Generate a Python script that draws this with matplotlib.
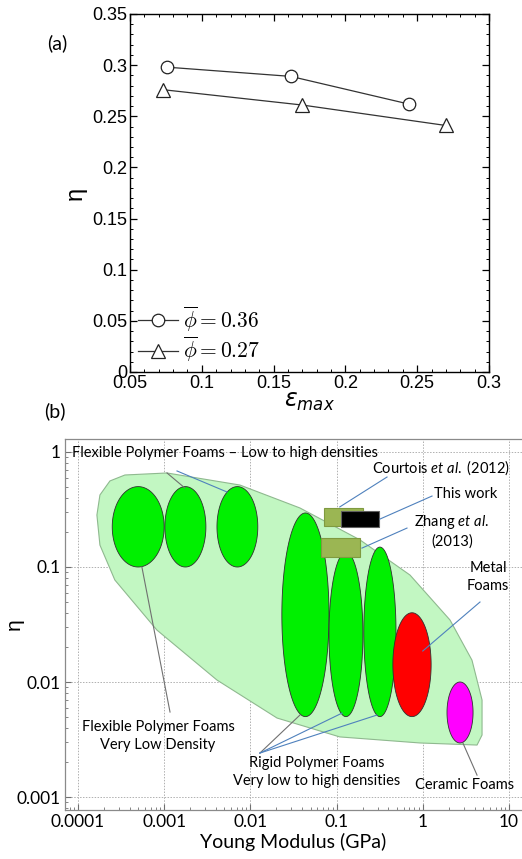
import numpy as np
import matplotlib
matplotlib.use("Agg")
import matplotlib.pyplot as plt
from matplotlib.font_manager import FontProperties
from matplotlib.patches import Rectangle

plt.rcParams["mathtext.fontset"] = "custom"
plt.rcParams["mathtext.rm"] = "Lato"
plt.rcParams["mathtext.it"] = "Lato:italic"

# ---------------- panel (a) data ----------------
eps_036 = [0.076, 0.162, 0.244]
eta_036 = [0.298, 0.289, 0.262]
eps_027 = [0.073, 0.170, 0.270]
eta_027 = [0.276, 0.261, 0.241]

# ---------------- panel (b) data ----------------
# foam families: (E_lo, E_hi) in GPa, (eta_lo, eta_hi)
foam_E = [(0.00025, 0.001), (0.00102, 0.00305), (0.0041, 0.0122),
          (0.0232, 0.0817), (0.0817, 0.202), (0.207, 0.489),
          (0.45, 1.25), (1.91, 3.83)]
foam_eta = [(0.1, 0.5), (0.1, 0.5), (0.1, 0.5),
            (0.005, 0.295), (0.005, 0.135), (0.005, 0.149),
            (0.005, 0.04), (0.00295, 0.01)]
foam_col = ["#00f000"] * 6 + ["#ff0000", "#ff00ff"]

# overall envelope of foams
env_E = [1.66e-4, 1.80e-4, 2.35e-4, 3.51e-4, 1.08e-3, 7.57e-3, 0.0376,
         0.187, 0.711, 2.07, 3.72, 4.87, 4.87, 4.26, 0.929, 0.109,
         0.0204, 4.10e-3, 8.24e-4, 2.68e-4, 1.80e-4]
env_eta = [0.283, 0.423, 0.560, 0.631, 0.657, 0.516, 0.326,
           0.172, 0.0851, 0.0346, 0.0155, 0.00697, 0.00346, 0.00283,
           0.00295, 0.00333, 0.00486, 0.0104, 0.0283, 0.0771, 0.155]

# literature boxes
box_names = ["Courtois", "Zhang", "This work"]
box_E = [(0.0714, 0.202), (0.066, 0.187), (0.112, 0.31)]
box_eta = [(0.227, 0.326), (0.122, 0.179), (0.223, 0.307)]
box_col = ["#9bb653", "#9bb653", "#000000"]


fig = plt.figure(figsize=(5.22, 8.59), dpi=100)

# ==================================================
# PANEL (a)
# ==================================================
ax1 = fig.add_axes([130 / 522, 1 - 372 / 859, 359 / 522, 358 / 859])

legprop = FontProperties(size=15.5, math_fontfamily="cm")

ax1.plot(eps_036, eta_036, color="#333333", lw=0.9, marker="o",
         ms=9, mfc="white", mec="#222222", mew=0.9,
         label=r"$\overline{\phi} = 0.36$")
ax1.plot(eps_027, eta_027, color="#333333", lw=0.9, marker="^",
         ms=10, mfc="white", mec="#222222", mew=0.9,
         label=r"$\overline{\phi} = 0.27$")

ax1.set_xlim(0.05, 0.3)
ax1.set_ylim(0, 0.35)
ax1.set_xticks(np.arange(0.05, 0.31, 0.05))
ax1.set_yticks(np.arange(0, 0.36, 0.05))
ax1.set_xticks(np.arange(0.05, 0.3, 0.01), minor=True)
ax1.set_yticks(np.arange(0, 0.35, 0.01), minor=True)
ax1.set_xticklabels(["0.05", "0.1", "0.15", "0.2", "0.25", "0.3"])
ax1.set_yticklabels(["0", "0.05", "0.1", "0.15", "0.2", "0.25", "0.3", "0.35"])
ax1.tick_params(which="both", direction="in", top=True, right=True)
ax1.tick_params(which="major", length=5, width=0.9, pad=2)
ax1.tick_params(which="minor", length=2.5, width=0.7)
for lab in ax1.get_xticklabels() + ax1.get_yticklabels():
    lab.set_family("Liberation Sans")
    lab.set_fontsize(13)
for sp in ax1.spines.values():
    sp.set_linewidth(1.0)

ax1.set_ylabel("η", family="Liberation Sans", fontsize=17, labelpad=4)
ax1.set_xlabel(r"$\varepsilon_{max}$", fontsize=17, labelpad=-2,
               math_fontfamily="dejavusans")

ax1.legend(loc="lower left", frameon=False, prop=legprop,
           handlelength=1.9, handletextpad=0.2, borderaxespad=0.15,
           labelspacing=0.05, borderpad=0.2)

fig.text(57 / 522, 1 - 43 / 859, "(a)", family="Lato", fontsize=14,
         ha="center", va="center")
fig.text(55 / 522, 1 - 411 / 859, "(b)", family="Lato", fontsize=14,
         ha="center", va="center")

# ==================================================
# PANEL (b)
# ==================================================
ax2 = fig.add_axes([65 / 522, 1 - 810 / 859, 457 / 522, 371 / 859])
ax2.set_xscale("log")
ax2.set_yscale("log")
ax2.set_xlim(10 ** -4.15, 10 ** 1.151)
ax2.set_ylim(10 ** -3.113, 10 ** 0.113)

ax2.grid(True, which="major", color="#b0b0b0", ls=(0, (1.5, 1.5)), lw=0.7)
ax2.set_axisbelow(True)

# envelope
ax2.fill(env_E, env_eta, facecolor="#c2f7c2", edgecolor="#8fb98f",
         lw=0.8, zorder=2)

# foam ellipses, drawn as ellipses in log-log space
t = np.linspace(0, 2 * np.pi, 200)
for (e0, e1), (h0, h1), c in zip(foam_E, foam_eta, foam_col):
    cx = 0.5 * (np.log10(e0) + np.log10(e1))
    rx = 0.5 * (np.log10(e1) - np.log10(e0))
    cy = 0.5 * (np.log10(h0) + np.log10(h1))
    ry = 0.5 * (np.log10(h1) - np.log10(h0))
    ax2.fill(10 ** (cx + rx * np.cos(t)), 10 ** (cy + ry * np.sin(t)),
             facecolor=c, edgecolor="#303030", lw=0.6, zorder=3)

# literature boxes
for (e0, e1), (h0, h1), c in zip(box_E, box_eta, box_col):
    ec = "#7f9a40" if c != "#000000" else "#606060"
    ax2.add_patch(Rectangle((e0, h0), e1 - e0, h1 - h0, facecolor=c,
                            edgecolor=ec, lw=0.8, zorder=4))

blue = "#4f81bd"
grey = "#707070"
leaders = [
    ((1.08e-3, 0.657), (1.74e-3, 0.486), grey),
    ((1.41e-3, 0.684), (5.36e-3, 0.449), blue),
    ((0.385, 0.606), (0.109, 0.333), blue),
    ((1.28, 0.414), (0.318, 0.261), blue),
    ((0.656, 0.218), (0.197, 0.146), blue),
    ((4.61, 0.0496), (1.0, 0.0186), blue),
    ((5.52e-4, 0.1), (1.17e-3, 0.00548), grey),
    ((0.0129, 0.00241), (0.0376, 0.00516), grey),
    ((0.0129, 0.00241), (0.116, 0.00537), blue),
    ((0.0129, 0.00241), (0.294, 0.00516), blue),
    ((2.92, 0.00295), (4.26, 0.00155), grey),
]
for p0, p1, c in leaders:
    ax2.plot([p0[0], p1[0]], [p0[1], p1[1]], color=c, lw=0.8, zorder=5)

tf = dict(family="Lato", fontsize=10.5, zorder=6)
ax2.text(8.5e-5, 0.98, "Flexible Polymer Foams – Low to high densities",
         ha="left", va="center", **tf)
ax2.text(10.3, 0.726, r"Courtois $et\ al.$ (2012)", ha="right",
         va="center", **tf)
ax2.text(7.26, 0.431, "This work", ha="right", va="center", **tf)
ax2.text(2.18, 0.206, "Zhang $et\\ al.$\n(2013)", ha="center",
         va="center", multialignment="center", linespacing=1.3, **tf)
ax2.text(5.7, 0.0818, "Metal\nFoams", ha="center", va="center",
         multialignment="center", linespacing=1.3, **tf)
ax2.text(8.5e-4, 0.00339, "Flexible Polymer Foams\nVery Low Density",
         ha="center", va="center", multialignment="center",
         linespacing=1.3, **tf)
ax2.text(0.0593, 0.00165, "Rigid Polymer Foams\nVery low to high densities",
         ha="center", va="center", multialignment="center",
         linespacing=1.3, **tf)
ax2.text(3.09, 0.00127, "Ceramic Foams", ha="center", va="center", **tf)

ax2.set_xticks([1e-4, 1e-3, 1e-2, 1e-1, 1, 10])
ax2.set_xticklabels(["0.0001", "0.001", "0.01", "0.1", "1", "10"])
ax2.set_yticks([1e-3, 1e-2, 1e-1, 1])
ax2.set_yticklabels(["0.001", "0.01", "0.1", "1"])
ax2.tick_params(which="both", direction="in", colors="#707070",
                labelcolor="black")
ax2.tick_params(which="major", length=4, pad=3)
ax2.tick_params(which="minor", length=2)
for lab in ax2.get_xticklabels() + ax2.get_yticklabels():
    lab.set_family("Lato")
    lab.set_fontsize(12.5)
for name, sp in ax2.spines.items():
    sp.set_color("#8a8a8a")
    sp.set_linewidth(0.9)
ax2.spines["right"].set_visible(False)

ax2.set_xlabel("Young Modulus (GPa)", family="Lato", fontsize=14, labelpad=2)
ax2.set_ylabel("η", family="Liberation Sans", fontsize=15)
ax2.yaxis.set_label_coords(-0.09, 0.5)

fig.savefig("out.png", dpi=100)
